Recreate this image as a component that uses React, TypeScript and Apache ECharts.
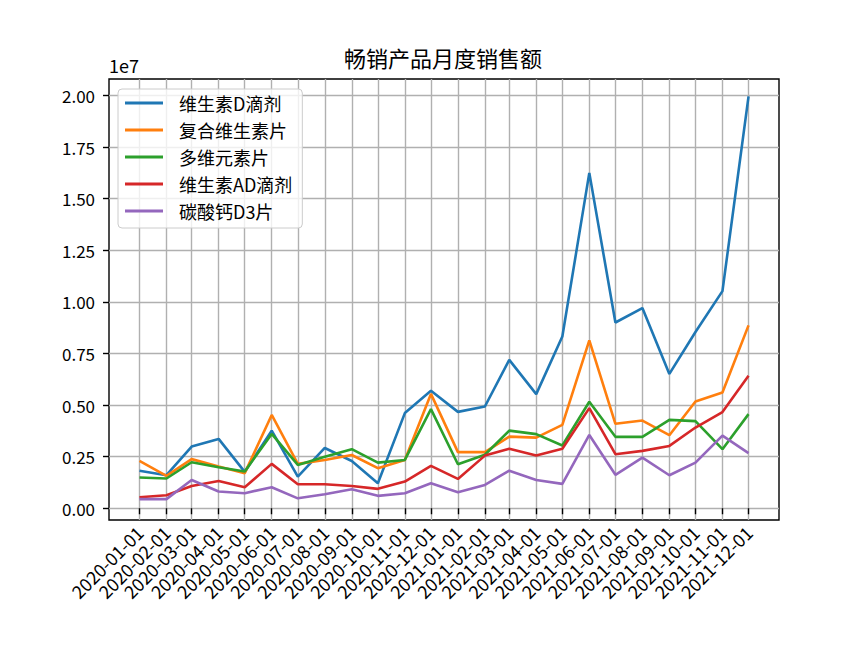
import React, { useEffect, useRef } from "react";
import * as echarts from "echarts";

const dates = [
  "2020-01-01", "2020-02-01", "2020-03-01", "2020-04-01", "2020-05-01", "2020-06-01",
  "2020-07-01", "2020-08-01", "2020-09-01", "2020-10-01", "2020-11-01", "2020-12-01",
  "2021-01-01", "2021-02-01", "2021-03-01", "2021-04-01", "2021-05-01", "2021-06-01",
  "2021-07-01", "2021-08-01", "2021-09-01", "2021-10-01", "2021-11-01", "2021-12-01",
];

const seriesNames = ["维生素D滴剂", "复合维生素片", "多维元素片", "维生素AD滴剂", "碳酸钙D3片"];

const vitaminD = [1820000, 1600000, 2990000, 3360000, 1760000, 3760000, 1530000, 2920000, 2290000, 1210000, 4610000, 5690000, 4670000, 4930000, 7190000, 5530000, 8320000, 16250000, 9000000, 9700000, 6510000, 8540000, 10520000, 19960000];
const multiVitamin = [2290000, 1570000, 2380000, 2020000, 1700000, 4520000, 2150000, 2340000, 2580000, 1940000, 2340000, 5540000, 2720000, 2720000, 3470000, 3420000, 4040000, 8130000, 4090000, 4250000, 3540000, 5170000, 5610000, 8860000];
const multiElement = [1490000, 1440000, 2230000, 1990000, 1780000, 3600000, 2100000, 2500000, 2860000, 2210000, 2340000, 4800000, 2130000, 2590000, 3760000, 3590000, 3040000, 5160000, 3460000, 3460000, 4280000, 4220000, 2860000, 4560000];
const vitaminAD = [530000, 630000, 1080000, 1320000, 1020000, 2150000, 1160000, 1160000, 1080000, 940000, 1290000, 2050000, 1420000, 2550000, 2880000, 2550000, 2880000, 4850000, 2620000, 2780000, 3020000, 3910000, 4660000, 6420000];
const calciumD3 = [440000, 440000, 1370000, 810000, 730000, 1020000, 480000, 680000, 920000, 600000, 730000, 1210000, 780000, 1130000, 1820000, 1370000, 1180000, 3550000, 1620000, 2450000, 1600000, 2210000, 3520000, 2670000];

const yTicks = [0, 2500000, 5000000, 7500000, 10000000, 12500000, 15000000, 17500000, 20000000];
const colors = ["#1f77b4", "#ff7f0e", "#2ca02c", "#d62728", "#9467bd"];

const FONT = '"Noto Sans CJK SC", "Noto Sans", sans-serif';
const DAY = 86400000;

function toTs(s: string): number {
  const [y, m, d] = s.split("-").map(Number);
  return Date.UTC(y, m - 1, d);
}

export default function App() {
  const ref = useRef<HTMLDivElement>(null);

  useEffect(() => {
    if (!ref.current) return;
    const chart = echarts.init(ref.current, null, { renderer: "svg" });
    const xs = dates.map(toTs);
    const span = xs[xs.length - 1] - xs[0];
    const xMin = xs[0] - span * 0.05;
    const xMax = xs[xs.length - 1] + span * 0.05;
    const allSeries = [vitaminD, multiVitamin, multiElement, vitaminAD, calciumD3];

    chart.setOption({
      animation: false,
      backgroundColor: "#ffffff",
      color: colors,
      title: {
        text: "畅销产品月度销售额",
        left: 344,
        top: 46,
        padding: 0,
        textStyle: { fontFamily: FONT, fontSize: 22, fontWeight: "normal", color: "#000" },
      },
      graphic: [
        {
          type: "text",
          left: 109,
          top: 56,
          style: { text: "1e7", fontFamily: FONT, fontSize: 18, fill: "#000" },
        },
      ],
      legend: {
        orient: "vertical",
        left: 118,
        top: 89,
        data: seriesNames.map((n) => ({ name: n, icon: "rect" })),
        itemWidth: 38,
        itemHeight: 3,
        itemGap: 9,
        padding: [5, 10, 8, 7],
        backgroundColor: "rgba(255,255,255,0.8)",
        borderColor: "#cccccc",
        borderWidth: 1,
        borderRadius: 4,
        textStyle: {
          fontFamily: FONT,
          fontSize: 18,
          lineHeight: 18,
          color: "#000",
          padding: [0, 0, 0, 11],
        },
      },
      grid: {
        left: 109,
        right: 86,
        top: 79,
        bottom: 130,
        show: true,
        borderColor: "#000",
        borderWidth: 1.4,
        backgroundColor: "transparent",
      },
      xAxis: {
        type: "value",
        min: xMin,
        max: xMax,
        axisLine: { show: false },
        axisTick: {
          show: true,
          length: 6,
          lineStyle: { color: "#000", width: 1.4 },
          customValues: xs,
        },
        axisLabel: {
          customValues: xs,
          rotate: 45,
          margin: 9,
          fontFamily: FONT,
          fontSize: 18,
          color: "#000",
          formatter: (v: number) => new Date(Math.round(v / DAY) * DAY).toISOString().slice(0, 10),
        },
        splitLine: { show: true, lineStyle: { color: "#b0b0b0", width: 1.4 } },
      },
      yAxis: {
        type: "value",
        min: -570000,
        max: 20800000,
        axisLine: { show: false },
        axisTick: {
          show: true,
          length: 6,
          lineStyle: { color: "#000", width: 1.4 },
          customValues: yTicks,
        },
        axisLabel: {
          customValues: yTicks,
          margin: 14,
          fontFamily: FONT,
          fontSize: 17,
          color: "#000",
          formatter: (v: number) => (v / 1e7).toFixed(2),
        },
        splitLine: { show: true, lineStyle: { color: "#b0b0b0", width: 1.4 } },
      },
      series: allSeries.map((vals, i) => ({
        name: seriesNames[i],
        type: "line",
        symbol: "none",
        lineStyle: { width: 2.6, color: colors[i] },
        itemStyle: { color: colors[i] },
        data: vals.map((v, j) => [xs[j], v]),
      })),
    });

    return () => chart.dispose();
  }, []);

  return (
    <div
      ref={ref}
      style={{ position: "fixed", left: 0, top: 0, width: 865, height: 650, background: "#fff" }}
    />
  );
}
